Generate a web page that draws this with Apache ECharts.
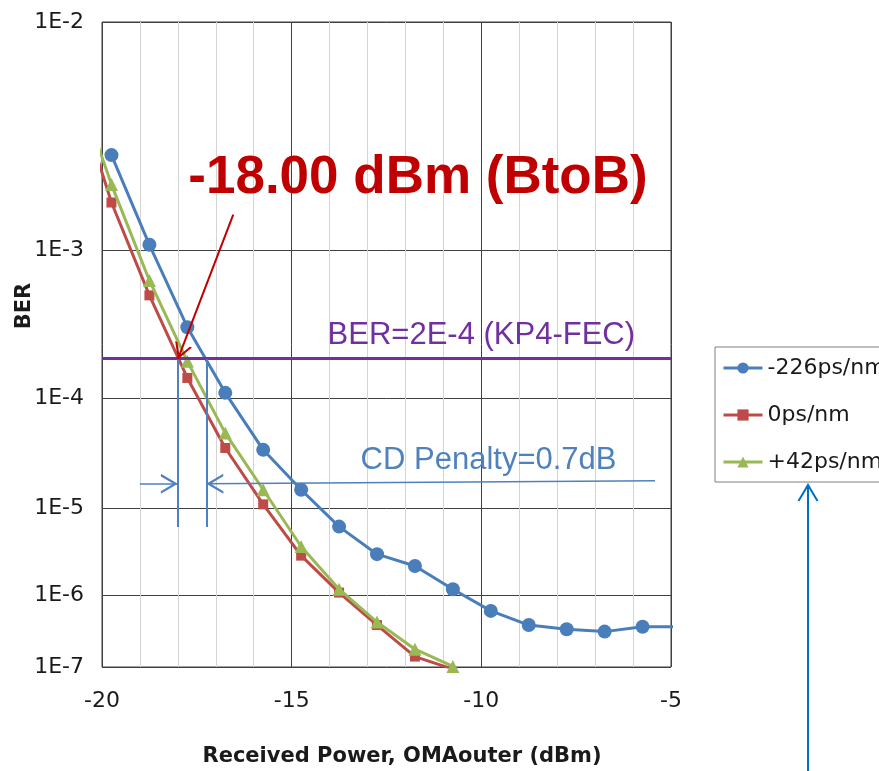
<!DOCTYPE html>
<html>
<head>
<meta charset="utf-8">
<title>BER vs Received Power</title>
<script src="https://cdn.jsdelivr.net/npm/echarts@6/dist/echarts.min.js"></script>
<style>
html, body { margin: 0; padding: 0; background: #fff; }
#chart { width: 879px; height: 771px; }
</style>
</head>
<body>
<div id="chart"></div>
<script>
const seriesNames = ['-226ps/nm', '0ps/nm', '+42ps/nm'];
const powerBlue = [-19.75, -18.75, -17.75, -16.75, -15.75, -14.75, -13.75, -12.75, -11.75, -10.75, -9.75, -8.75, -7.75, -6.75, -5.75, -4.75];
const berBlue = [3.05e-3, 1.08e-3, 3.36e-4, 1.11e-4, 3.66e-5, 1.53e-5, 6.35e-6, 3.12e-6, 2.27e-6, 1.18e-6, 6.2e-7, 4.0e-7, 3.5e-7, 3.25e-7, 3.8e-7, 3.8e-7];
const powerRedGreen = [-20.75, -19.75, -18.75, -17.75, -16.75, -15.75, -14.75, -13.75, -12.75, -11.75, -10.75];
const berRed = [6.1e-3, 1.81e-3, 5.42e-4, 1.45e-4, 3.8e-5, 1.09e-5, 3.0e-6, 1.07e-6, 4.0e-7, 1.43e-7, 9.3e-8];
const berGreen = [6.5e-3, 2.22e-3, 6.7e-4, 1.93e-4, 5.15e-5, 1.53e-5, 3.82e-6, 1.18e-6, 4.4e-7, 1.83e-7, 1.02e-7];

// axis ticks
const berDecades = [1e-2, 1e-3, 1e-4, 1e-5, 1e-6, 1e-7];
const powerMin = -20, powerMax = -5, powerStep = 5;

// annotation values
const fecLimit = 2e-4;
const btobPower = -18.0;
const cdPower = -17.25;

const colors = ['#4A7EBB', '#BE4B48', '#98B954'];

// BER axis is log(-log(BER)) like, not plain log
function toY(ber) { return -Math.log10(-Math.log10(ber) - 0.6); }
function decadeLabel(v) { return '1E-' + Math.round(Math.pow(10, -v) + 0.6); }

function pts(xs, ys) { return xs.map((x, i) => [x, toY(ys[i])]); }

const openArrow = 'path://M0,0L10,17L7.4,17L0,4.4L-7.4,17L-10,17Z';
const grid = { left: 102, right: 208, top: 22, bottom: 104 };

const chart = echarts.init(document.getElementById('chart'));

const option = {
  animation: false,
  backgroundColor: '#fff',
  grid: {
    left: grid.left, right: grid.right, top: grid.top, bottom: grid.bottom,
    show: true, borderColor: '#404040', borderWidth: 1
  },
  legend: {
    data: seriesNames,
    orient: 'vertical',
    left: 715, top: 347,
    itemWidth: 39, itemHeight: 14, itemGap: 25,
    padding: [10, 40, 9, 7],
    borderColor: '#7f7f7f', borderWidth: 1, backgroundColor: '#fff',
    selectedMode: false,
    lineStyle: { width: 3 },
    textStyle: { fontSize: 22, fontFamily: 'DejaVu Sans', color: '#1a1a1a' }
  },
  xAxis: {
    type: 'value', min: powerMin, max: powerMax, interval: powerStep,
    axisLine: { show: false }, axisTick: { show: false },
    axisLabel: { fontSize: 22, fontFamily: 'DejaVu Sans', color: '#1a1a1a', margin: 23 },
    splitLine: { show: true, lineStyle: { color: '#404040', width: 1 } },
    minorTick: { show: false, splitNumber: 5 },
    minorSplitLine: { show: true, lineStyle: { color: '#d4d4d4', width: 1 } }
  },
  yAxis: {
    type: 'value', min: toY(1e-7), max: toY(1e-2),
    axisLine: { show: false },
    axisTick: { show: false, customValues: berDecades.map(toY) },
    axisLabel: {
      customValues: berDecades.map(toY),
      formatter: decadeLabel,
      fontSize: 22, fontFamily: 'DejaVu Sans', color: '#1a1a1a', margin: 18
    },
    splitLine: { show: true, lineStyle: { color: '#404040', width: 1 } }
  },
  series: [
    {
      name: seriesNames[0], type: 'line', data: pts(powerBlue, berBlue),
      symbol: 'circle', symbolSize: 14, z: 2,
      lineStyle: { width: 3, color: colors[0] }, itemStyle: { color: colors[0] }
    },
    {
      name: seriesNames[1], type: 'line', data: pts(powerRedGreen, berRed),
      symbol: 'rect', symbolSize: 10, z: 3,
      lineStyle: { width: 3, color: colors[1] }, itemStyle: { color: colors[1] }
    },
    {
      name: seriesNames[2], type: 'line', data: pts(powerRedGreen, berGreen),
      symbol: 'triangle', symbolSize: 13, z: 4,
      lineStyle: { width: 3, color: colors[2] }, itemStyle: { color: colors[2] }
    },
    {
      // annotations only
      name: 'notes', type: 'line', data: [], z: 6, silent: true,
      markLine: {
        silent: true, symbol: ['none', 'none'],
        label: { show: false },
        lineStyle: { type: 'solid' },
        emphasis: { disabled: true },
        data: [
          { yAxis: toY(fecLimit), lineStyle: { color: '#7030A0', width: 3, type: 'solid' } },
          [
            { coord: [btobPower, toY(fecLimit)], lineStyle: { color: '#4F81BD', width: 2, type: 'solid' } },
            { coord: [btobPower, toY(6.3e-6)] }
          ],
          [
            { coord: [cdPower, toY(fecLimit)], lineStyle: { color: '#4F81BD', width: 2, type: 'solid' } },
            { coord: [cdPower, toY(6.3e-6)] }
          ],
          [
            { coord: [-19.0, toY(1.75e-5)], lineStyle: { color: '#4F81BD', width: 1.5, type: 'solid' } },
            { coord: [btobPower, toY(1.75e-5)], symbol: openArrow, symbolSize: [20, 17], symbolOffset: [0, '50%'] }
          ],
          [
            { coord: [-5.42, toY(1.88e-5)], lineStyle: { color: '#4F81BD', width: 1.5, type: 'solid' } },
            { coord: [cdPower, toY(1.75e-5)], symbol: openArrow, symbolSize: [20, 17], symbolOffset: [0, '50%'] }
          ],
          [
            { coord: [-16.54, toY(1.57e-3)], lineStyle: { color: '#C00000', width: 2, type: 'solid' } },
            { coord: [btobPower, toY(fecLimit)], symbol: openArrow, symbolSize: [18, 16], symbolOffset: [0, '50%'] }
          ]
        ]
      },
      markPoint: {
        silent: true, symbol: 'circle', symbolSize: 1,
        itemStyle: { color: 'transparent' },
        label: { show: true, position: 'inside' },
        data: [
          {
            coord: [-11.67, toY(2.38e-3)],
            label: { formatter: '-18.00 dBm (BtoB)', color: '#C00000', fontSize: 53, fontWeight: 'bold', fontFamily: 'Liberation Sans' }
          },
          {
            coord: [-10.0, toY(2.94e-4)],
            label: { formatter: 'BER=2E-4 (KP4-FEC)', color: '#7030A0', fontSize: 31, fontFamily: 'Liberation Sans' }
          },
          {
            coord: [-9.81, toY(2.9e-5)],
            label: { formatter: 'CD Penalty=0.7dB', color: '#4F81BD', fontSize: 31, fontFamily: 'Liberation Sans' }
          }
        ]
      }
    }
  ],
  graphic: [
    {
      type: 'text', x: 402, y: 757,
      style: { text: 'Received Power, OMAouter (dBm)', fontSize: 21, fontWeight: 'bold', fontFamily: 'DejaVu Sans', fill: '#1a1a1a', align: 'center', verticalAlign: 'middle' }
    },
    {
      type: 'text', x: 25, y: 306, rotation: Math.PI / 2,
      style: { text: 'BER', fontSize: 21, fontWeight: 'bold', fontFamily: 'DejaVu Sans', fill: '#1a1a1a', align: 'center', verticalAlign: 'middle' }
    },
    {
      type: 'line', shape: { x1: 808, y1: 771, x2: 808, y2: 485 },
      style: { stroke: '#0070C0', lineWidth: 2 }
    },
    {
      type: 'polyline', shape: { points: [[798.5, 501], [808, 485], [817.5, 501]] },
      style: { stroke: '#0070C0', lineWidth: 2, fill: null }
    }
  ]
};

chart.setOption(option);
</script>
</body>
</html>
